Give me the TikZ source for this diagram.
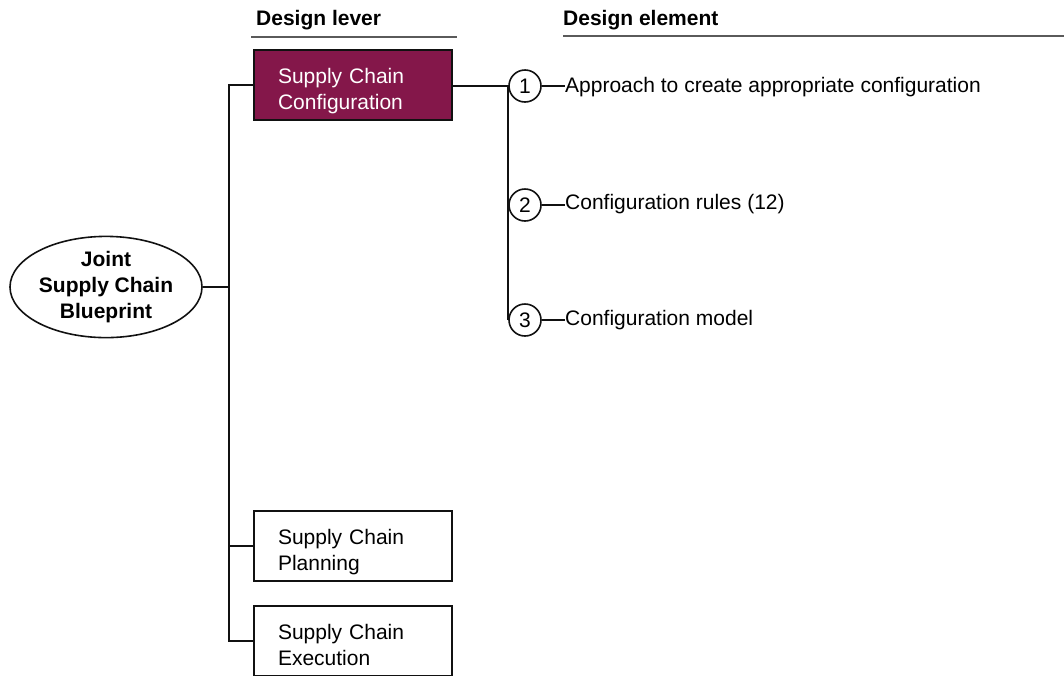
\documentclass[tikz,border=0pt]{standalone}
\usepackage{fontspec}
\setmainfont{Liberation Sans}
\usepackage{xcolor}
\usepackage{tikz}
\usetikzlibrary{positioning,shapes.geometric,calc}
\definecolor{blk}{HTML}{111111}
\definecolor{mar}{HTML}{84174A}
\definecolor{rule}{HTML}{5A5A5A}
\newcommand{\fs}{\fontsize{21}{26}\selectfont}
\tikzset{
  lever/.style={draw=blk, line width=2.4pt, fill=white, minimum width=198pt, minimum height=70pt,
                text width=150pt, inner xsep=24pt, align=left, font=\fs, text depth=19pt},
  sel/.style={lever, fill=mar, text=white},
  hub/.style={draw=blk, line width=1.6pt, ellipse, minimum width=192pt, minimum height=86pt,
              inner sep=0pt, align=center, font=\fs\bfseries},
  num/.style={draw=blk, line width=1.6pt, circle, minimum size=32pt, inner sep=0pt, font=\fs},
  elem/.style={anchor=west, inner sep=0pt, font=\fs},
  head/.style={anchor=west, inner sep=0pt, font=\fs\bfseries},
  link/.style={draw=blk, line width=2.4pt},
  tick/.style={draw=blk, line width=1.5pt},
  hr/.style={draw=rule, line width=1.6pt},
}
\begin{document}
\begin{tikzpicture}[x=1pt, y=-1pt]
  \useasboundingbox (0,0) rectangle (1064,675);
  % headers
  \node[head] (hlev) at (256,20) {Design lever};
  \node[head] (hele) at (563,20) {Design element};
  \draw[hr] (251,37) -- (457,37);
  \draw[hr] (hele.west |- 0,36) -- (1064,36);
  % blueprint and levers
  \node[hub] (bp) at (106,287) {Joint\\Supply Chain\\Blueprint};
  \node[sel] (cfg) at (353,85) {Supply Chain\\Configuration};
  \node[lever] (pln) at (353,546) {Supply Chain\\Planning};
  \node[lever] (exe) at (353,641) {Supply Chain\\Execution};
  \coordinate (tk) at (229,289);
  \draw[link] (bp.east) -- (bp.east -| tk);
  \draw[link] (cfg.west) -| (tk) |- (exe.west);
  \draw[link] (pln.west) -- (pln.west -| tk);
  % elements
  \node[num] (n1) at (525,86) {1};
  \node[num] (n2) at (525,205) {2};
  \node[num] (n3) at (525,320) {3};
  \node[elem] (e1) at (565,87) {Approach to create appropriate configuration};
  \node[elem] (e2) at (565,204) {Configuration rules (12)};
  \node[elem] (e3) at (565,320) {Configuration model};
  \coordinate (sp) at (508,86);
  \draw[link] (cfg.east |- sp) -- (sp) -- (sp |- n3.west);
  \draw[tick] (n1.east) -- (n1.east -| e1.west);
  \draw[tick] (n2.east) -- (n2.east -| e2.west);
  \draw[tick] (n3.east) -- (n3.east -| e3.west);
\end{tikzpicture}
\end{document}
